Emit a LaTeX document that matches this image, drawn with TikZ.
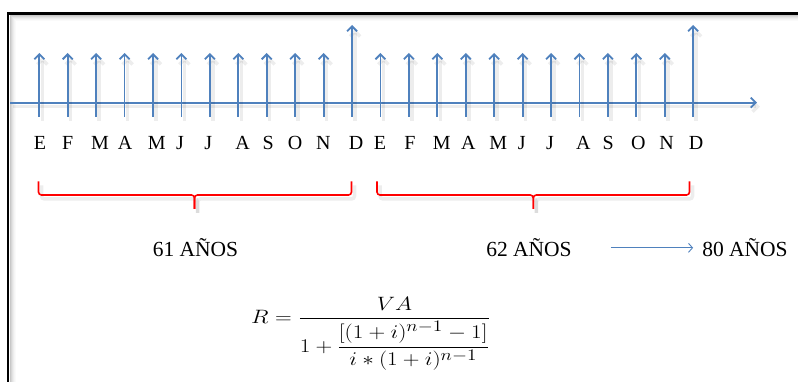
\documentclass[tikz,border=0pt]{standalone}
\usepackage{amsmath}
\usepackage{graphicx}
\usepackage{fontspec}
\setmainfont{Liberation Serif}
\usetikzlibrary{arrows.meta}
\definecolor{tlblue}{HTML}{4F81BD}
\begin{document}
\begin{tikzpicture}[x=1pt,y=-1pt,
  shadowed/.style={preaction={draw=black, opacity=0.07, line width=3.5pt,
      transform canvas={shift={(3pt,-4pt)}}}},
  tick/.style={draw=tlblue, line width=1.8pt, shadowed,
      -{Straight Barb[length=5pt,width=10pt]}},
  mon/.style={font=\fontsize{20}{24}\selectfont, anchor=base, inner sep=0pt},
  yr/.style={font=\fontsize{21.5}{25}\selectfont, anchor=base, inner sep=0pt},
  bracepath/.style={draw=red, line width=1.6pt, rounded corners=3pt, shadowed},
  thinarrow/.style={draw=tlblue, line width=0.9pt, -{Straight Barb[length=4pt,width=9pt]}},
]
\useasboundingbox (0,0) rectangle (798,382);
\clip (0,0) rectangle (798,382);
\fill[white] (0,0) rectangle (798,382);
% inner shadow of the frame
\foreach \i/\o in {1/0.22,2/0.16,3/0.11,4/0.07,5/0.04,6/0.02}
  {\draw[black, opacity=\o, line width=1pt] (9.5+\i,382) -- (9.5+\i,14.5+\i) -- (798,14.5+\i);}
\draw[line width=2.5pt] (8,13.5) rectangle (830,400);

% time axis
\coordinate (ax0) at (10,102.7);
\coordinate (ax1) at (757,102.7);
\draw[tick] (ax0) -- (ax1);

% payment arrows
\foreach \k in {0,...,23}{
  \pgfmathsetmacro\xx{39.3+28.43*\k}
  \pgfmathsetmacro\yt{(\k==11||\k==23)?25:53}
  \coordinate (b\k) at (\xx,116.7);
  \coordinate (t\k) at (\xx,\yt);
  \draw[tick] (b\k) -- (t\k);
}

% month labels
\foreach \x/\l [count=\n] in {40/E,67.7/F,100/M,125/A,156.7/M,180/J,208.3/J,242.7/A,268.3/S,295/O,323.3/N,356/D,
  380/E,410/F,441.7/M,468.3/A,498.3/M,521.7/J,550/J,583.3/A,608.3/S,638.3/O,666.7/N,696/D}
  {\node[mon] (m\n) at (\x,150) {\l};}

% braces
\draw[bracepath] (38.5,181.5) -- (38.5,195) -- (194.5,195) -- (194.5,209);
\draw[bracepath] (194.5,209) -- (194.5,195) -- (351.5,195) -- (351.5,181.5);
\draw[bracepath] (377,181.5) -- (377,195) -- (533.3,195) -- (533.3,209);
\draw[bracepath] (533.3,209) -- (533.3,195) -- (689.5,195) -- (689.5,181.5);

% year labels
\node[yr] (y61) at (195.5,256.7) {61 AÑOS};
\node[yr] (y62) at (529,256.7) {62 AÑOS};
\node[yr] (y80) at (745,256.7) {80 AÑOS};
\draw[thinarrow, shorten <=39pt, shorten >=9pt] (y62.east) -- (y80.west);

% formula
\node (f) at (371,334) {\scalebox{1.34}[1.12]{\fontsize{19}{23}\selectfont
  $R=\dfrac{VA}{1+\dfrac{[(1+i)^{n-1}-1]}{i*(1+i)^{n-1}}}$}};
\end{tikzpicture}
\end{document}
